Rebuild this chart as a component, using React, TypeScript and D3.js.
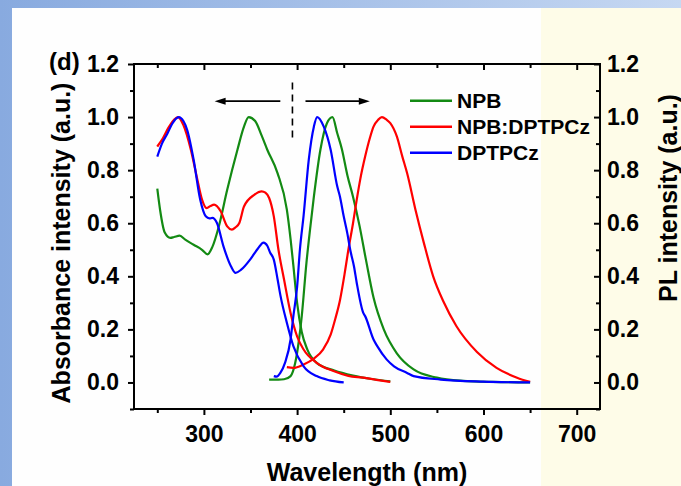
import * as React from "react";
import * as d3 from "d3";

// absorption / PL spectra, [wavelength nm, normalised intensity]
const npbAbs = [
  [250, 0.73], [253, 0.65], [258, 0.565], [264, 0.545], [268, 0.548], [274, 0.553],
  [280, 0.538], [289, 0.519], [298, 0.5], [304, 0.483], [309, 0.51], [316, 0.588],
  [325, 0.726], [336, 0.877], [343, 0.964], [348, 1.0], [355, 0.985], [362, 0.93],
  [368, 0.877], [379, 0.789], [389, 0.651], [393, 0.54], [396, 0.44], [400, 0.3],
  [405, 0.19], [411, 0.124], [421, 0.074], [440, 0.045], [460, 0.026], [480, 0.013],
  [500, 0.004],
];
const npbPl = [
  [370, 0.011], [380, 0.011], [386, 0.012], [393, 0.024], [398, 0.074], [402, 0.16],
  [405, 0.25], [410, 0.45], [414, 0.58], [418, 0.7], [425, 0.877], [432, 0.977],
  [438, 1.0], [443, 0.94], [448, 0.88], [454, 0.78], [460, 0.7], [467, 0.59],
  [474, 0.46], [482, 0.32], [493, 0.2], [507, 0.11], [525, 0.049], [550, 0.018],
  [578, 0.006], [610, 0.002], [650, 0.0],
];
const mixAbs = [
  [250, 0.889], [256, 0.92], [262, 0.96], [268, 0.99], [272, 1.0], [278, 0.97],
  [286, 0.877], [293, 0.764], [298, 0.689], [303, 0.657], [307, 0.665], [311, 0.67],
  [318, 0.645], [325, 0.588], [330, 0.576], [334, 0.585], [338, 0.601], [343, 0.663],
  [354, 0.707], [362, 0.72], [366, 0.715], [370, 0.695], [375, 0.626], [380, 0.5],
  [386, 0.388], [393, 0.262], [400, 0.174], [407, 0.124], [421, 0.074], [439, 0.043],
  [455, 0.025], [471, 0.018], [485, 0.01], [500, 0.002],
];
const mixPl = [
  [389, 0.058], [396, 0.055], [407, 0.068], [418, 0.09], [428, 0.125], [436, 0.18],
  [441, 0.24], [446, 0.31], [451, 0.41], [455, 0.5], [460, 0.6], [464, 0.689],
  [468, 0.77], [473, 0.851], [478, 0.92], [482, 0.964], [487, 0.99], [491, 1.0],
  [496, 0.99], [500, 0.977], [507, 0.927], [513, 0.85], [518, 0.789], [527, 0.651],
  [536, 0.526], [546, 0.4], [557, 0.305], [571, 0.212], [593, 0.115], [614, 0.055],
  [636, 0.018], [650, 0.002],
];
const dptAbs = [
  [250, 0.851], [255, 0.9], [261, 0.939], [266, 0.975], [273, 1.0], [278, 0.985],
  [282, 0.952], [289, 0.839], [296, 0.689], [302, 0.626], [306, 0.618], [309, 0.62],
  [314, 0.601], [321, 0.513], [329, 0.438], [334, 0.413], [340, 0.425], [350, 0.465],
  [358, 0.505], [364, 0.527], [368, 0.515], [371, 0.49], [375, 0.463], [379, 0.39],
  [382, 0.33], [389, 0.225], [396, 0.137], [407, 0.061], [421, 0.024], [435, 0.008],
  [450, 0.0],
];
const dptPl = [
  [375, 0.024], [378, 0.022], [382, 0.036], [387, 0.074], [393, 0.162], [396, 0.25],
  [400, 0.36], [403, 0.5], [407, 0.63], [412.5, 0.839], [418, 0.964], [421.5, 1.0],
  [428.6, 0.964], [436, 0.877], [443, 0.74], [446, 0.7], [450, 0.626], [454, 0.56],
  [457, 0.5], [461, 0.438], [464, 0.375], [471, 0.262], [473, 0.25], [482, 0.162],
  [486, 0.137], [496, 0.087], [504, 0.061], [518, 0.036], [525, 0.024], [554, 0.011],
  [600, 0.003], [650, 0.0],
];

const seriesNames = ["NPB", "NPB:DPTPCz", "DPTPCz"];
const seriesColors = ["#138a13", "#ff0000", "#0000ff"];
const seriesData = [[npbAbs, npbPl], [mixAbs, mixPl], [dptAbs, dptPl]];

const xMajor = [300, 400, 500, 600, 700];
const xMinor = [250, 350, 450, 550, 650];
const yMajor = [0, 0.2, 0.4, 0.6, 0.8, 1.0, 1.2];
const yMinor = [-0.1, 0.1, 0.3, 0.5, 0.7, 0.9, 1.1];

const W = 681;
const H = 486;
const FONT = "'Liberation Sans', Arial, sans-serif";

export default function App() {
  const ref = React.useRef<SVGSVGElement>(null);

  React.useEffect(() => {
    const svg = d3.select(ref.current);
    svg.selectAll("*").remove();

    // page background: blue frame, white sheet, pale yellow strip on the right
    const defs = svg.append("defs");
    const grad = defs.append("linearGradient").attr("id", "frame");
    grad.append("stop").attr("offset", "0%").attr("stop-color", "#88aadf");
    grad.append("stop").attr("offset", "100%").attr("stop-color", "#c6d8f2");
    svg.append("rect").attr("width", W).attr("height", H).attr("fill", "url(#frame)");
    svg.append("rect").attr("x", 12).attr("y", 8).attr("width", W - 12).attr("height", H - 8).attr("fill", "#fefefe");
    svg.append("rect").attr("x", 541).attr("y", 8).attr("width", W - 541).attr("height", H - 8).attr("fill", "#fefce8");

    const x = d3.scaleLinear().domain([225, 725]).range([134, 600]);
    const y = d3.scaleLinear().domain([-0.1, 1.2]).range([409, 64]);

    const line = d3
      .line<number[]>()
      .x((d) => x(d[0]))
      .y((d) => y(d[1]))
      .curve(d3.curveMonotoneX);

    const curves = svg.append("g").attr("fill", "none").attr("stroke-width", 2.2);
    seriesData.forEach((pair, i) => {
      pair.forEach((pts) => {
        curves.append("path").attr("d", line(pts)).attr("stroke", seriesColors[i]);
      });
    });

    // axes
    const styleAxis = (g) => {
      g.select(".domain").remove();
      g.selectAll("line").attr("stroke", "#000").attr("stroke-width", 2);
      g.selectAll("text")
        .attr("font-family", FONT)
        .attr("font-weight", "bold")
        .attr("font-size", 23)
        .attr("fill", "#000");
    };
    const noLabel = () => "";

    svg.append("g").attr("transform", "translate(0,409)")
      .call(d3.axisBottom(x).tickValues(xMajor).tickSize(6).tickPadding(11).tickFormat(d3.format("d")))
      .call(styleAxis);
    svg.append("g").attr("transform", "translate(0,409)")
      .call(d3.axisBottom(x).tickValues(xMinor).tickSize(4).tickFormat(noLabel))
      .call(styleAxis);
    svg.append("g").attr("transform", "translate(0,64)")
      .call(d3.axisBottom(x).tickValues(xMajor).tickSize(6).tickFormat(noLabel))
      .call(styleAxis);
    svg.append("g").attr("transform", "translate(0,64)")
      .call(d3.axisBottom(x).tickValues(xMinor).tickSize(4).tickFormat(noLabel))
      .call(styleAxis);

    svg.append("g").attr("transform", "translate(134,0)")
      .call(d3.axisLeft(y).tickValues(yMajor).tickSize(6).tickPadding(9).tickFormat(d3.format(".1f")))
      .call(styleAxis);
    svg.append("g").attr("transform", "translate(134,0)")
      .call(d3.axisLeft(y).tickValues(yMinor).tickSize(4).tickFormat(noLabel))
      .call(styleAxis);
    svg.append("g").attr("transform", "translate(600,0)")
      .call(d3.axisRight(y).tickValues(yMajor).tickSize(-6).tickPadding(7).tickFormat(d3.format(".1f")))
      .call(styleAxis);
    svg.append("g").attr("transform", "translate(600,0)")
      .call(d3.axisRight(y).tickValues(yMinor).tickSize(-4).tickFormat(noLabel))
      .call(styleAxis);

    svg.append("rect")
      .attr("x", x.range()[0]).attr("y", y.range()[1])
      .attr("width", x.range()[1] - x.range()[0])
      .attr("height", y.range()[0] - y.range()[1])
      .attr("fill", "none").attr("stroke", "#000").attr("stroke-width", 2);

    // titles
    const txt = (g, s, size) =>
      g.append("text").text(s)
        .attr("font-family", FONT).attr("font-weight", "bold")
        .attr("font-size", size).attr("fill", "#000");

    txt(svg, "Wavelength (nm)", 25).attr("x", 367).attr("y", 481).attr("text-anchor", "middle");
    txt(svg, "Absorbance intensity (a.u.)", 25)
      .attr("text-anchor", "middle")
      .attr("transform", "translate(70,243) rotate(-90)");
    txt(svg, "PL intensity (a.u.)", 25)
      .attr("text-anchor", "middle")
      .attr("transform", "translate(677,198) rotate(-90)");
    txt(svg, "(d)", 24).attr("x", 49).attr("y", 70);

    // legend
    const legend = svg.append("g");
    seriesNames.forEach((name, i) => {
      const ly = 100.7 + i * 26;
      legend.append("line")
        .attr("x1", 410).attr("x2", 452).attr("y1", ly).attr("y2", ly)
        .attr("stroke", seriesColors[i]).attr("stroke-width", 2.5);
      txt(legend, name, 21).attr("x", 457).attr("y", ly + 7.5);
    });

    // absorption <- | -> PL arrows
    const ann = svg.append("g").attr("stroke", "#000").attr("stroke-width", 1.6);
    const ay = y(1.06);
    const arrow = (from, to) => {
      const x1 = x(from);
      const x2 = x(to);
      const dir = Math.sign(x2 - x1);
      ann.append("line").attr("x1", x1).attr("x2", x2 - dir * 8).attr("y1", ay).attr("y2", ay);
      ann.append("path")
        .attr("d", `M${x2},${ay} L${x2 - dir * 11},${ay - 3.5} L${x2 - dir * 11},${ay + 3.5} Z`)
        .attr("fill", "#000").attr("stroke", "none");
    };
    arrow(382, 311.5);
    arrow(409, 478);
    ann.append("line")
      .attr("x1", x(395)).attr("x2", x(395))
      .attr("y1", y(1.13)).attr("y2", y(0.914))
      .attr("stroke-dasharray", "7,5");
  }, []);

  return (
    <svg
      ref={ref}
      width={W}
      height={H}
      style={{ position: "absolute", left: 0, top: 0, display: "block" }}
    />
  );
}
